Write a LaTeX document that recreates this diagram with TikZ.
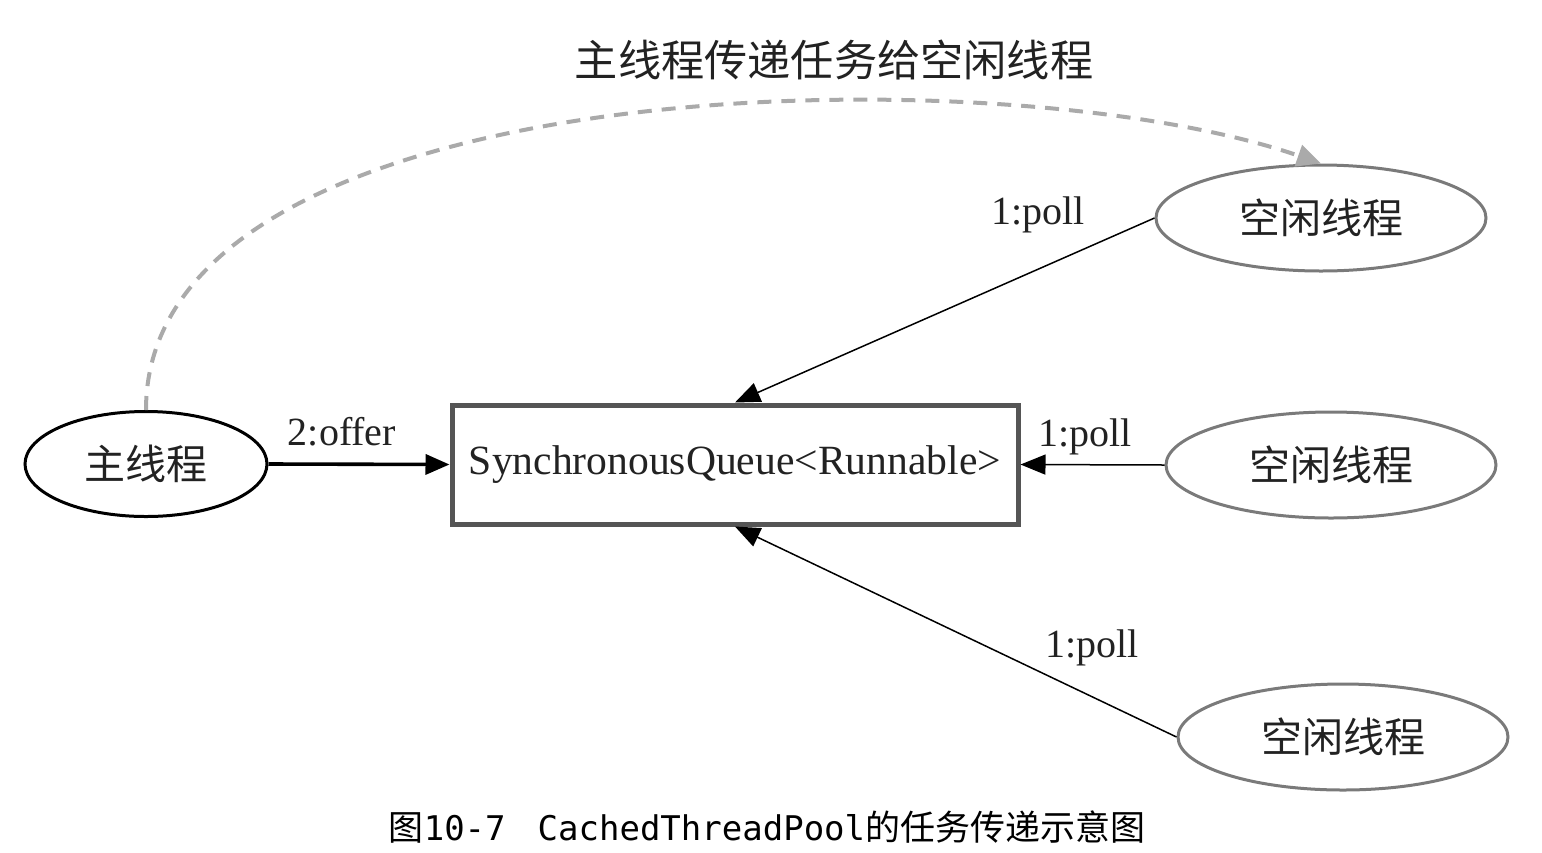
\documentclass[tikz,border=0pt]{standalone}
\usepackage{fontspec}
\setmainfont{Liberation Serif}
\newfontfamily\cjk{Noto Sans CJK SC}
\newfontfamily\capmono{DejaVu Sans Mono}
\usetikzlibrary{shapes.geometric,arrows.meta}
\definecolor{boxgray}{HTML}{555555}
\definecolor{ellgray}{HTML}{7A7A7A}
\definecolor{dashgray}{HTML}{AAAAAA}
\definecolor{txt}{HTML}{222222}
\tikzset{
  mainell/.style={ellipse, draw=black, line width=1.5pt, minimum width=121pt, minimum height=52.5pt, inner sep=0pt, text=txt, font=\cjk\fontsize{20.5}{22}\selectfont},
  idleell/.style={ellipse, draw=ellgray, line width=1.5pt, minimum width=165pt, minimum height=53pt, inner sep=0pt, text=txt, font=\cjk\fontsize{20.5}{22}\selectfont},
  qbox/.style={rectangle, draw=boxgray, line width=2.5pt, minimum width=283pt, minimum height=59.5pt, inner sep=0pt, text=txt, font=\fontsize{20.8}{23}\selectfont},
  lbl/.style={inner sep=0pt, text=txt, font=\fontsize{20}{22}\selectfont},
  thinarrow/.style={line width=0.75pt, -{Triangle[length=12.5pt,width=10pt]}},
  thickarrow/.style={line width=1.8pt, -{Triangle[length=12pt,width=10pt]}},
  dasharrow/.style={draw=dashgray, line width=2pt, dash pattern=on 7pt off 5pt, -{Triangle[length=12pt,width=11pt,fill=dashgray]}},
}
\begin{document}
\begin{tikzpicture}[x=0.5pt,y=-0.5pt]
\useasboundingbox (0,0) rectangle (1542,852);
\node[mainell] (main) at (146,464) {主线程};
\node[qbox] (box) at (735,464.5) {SynchronousQueue<Runnable>};
\node[idleell] (t1) at (1321,218) {空闲线程};
\node[idleell] (m1) at (1331,465) {空闲线程};
\node[idleell] (b1) at (1343,737) {空闲线程};
\draw[thickarrow] (main.east) -- (box.west);
\draw[thinarrow] (t1.west) -- (box.north);
\draw[thinarrow] (m1.west) -- (box.east);
\draw[thinarrow] (b1.west) -- (box.south);
\draw[dasharrow] (main.north) .. controls (146,68) and (1000,52) .. (t1.north);
\node[lbl] (loffer) at (342,432) {2:offer};
\node[lbl] (lp1) at (1038,215) {1:poll};
\node[lbl] (lp2) at (1085,437) {1:poll};
\node[lbl] (lp3) at (1092,648) {1:poll};
\node[inner sep=0pt, text=txt, font=\cjk\fontsize{21.6}{24}\selectfont] (title) at (834,60) {主线程传递任务给空闲线程};
\node[inner sep=0pt, text=black] (cap) at (767,827) {\cjk\fontsize{17.5}{20}\selectfont 图\capmono\fontsize{17}{20}\selectfont 10-7\hspace{16pt}CachedThreadPool\cjk\fontsize{17.5}{20}\selectfont 的任务传递示意图};
\end{tikzpicture}
\end{document}
